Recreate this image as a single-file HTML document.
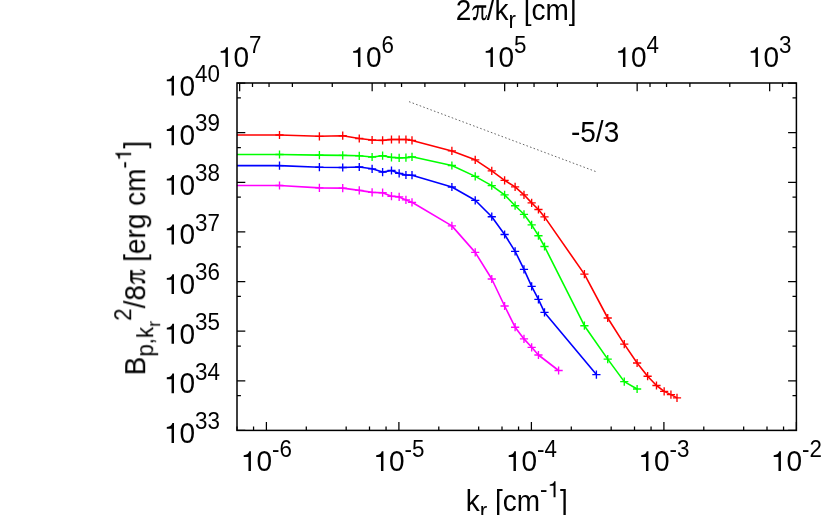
<!DOCTYPE html><html><head><meta charset="utf-8"><title>chart</title><style>html,body{margin:0;padding:0;background:#fff;overflow:hidden}svg{display:block;position:absolute;left:0;top:0}text{font-family:"Liberation Sans",sans-serif;fill:#000}</style></head><body>
<svg width="830" height="515" viewBox="0 0 830 515">
<rect x="0" y="0" width="830" height="515" fill="#fff"/>
<path d="M237.01 430.40L237.01 426.50M253.56 430.40L253.56 426.50M266.40 430.40L266.40 422.10M306.29 430.40L306.29 426.50M346.17 430.40L346.17 426.50M369.51 430.40L369.51 426.50M386.06 430.40L386.06 426.50M398.90 430.40L398.90 422.10M438.79 430.40L438.79 426.50M478.67 430.40L478.67 426.50M502.01 430.40L502.01 426.50M518.56 430.40L518.56 426.50M531.40 430.40L531.40 422.10M571.29 430.40L571.29 426.50M611.17 430.40L611.17 426.50M634.51 430.40L634.51 426.50M651.06 430.40L651.06 426.50M663.90 430.40L663.90 422.10M703.79 430.40L703.79 426.50M743.67 430.40L743.67 426.50M767.01 430.40L767.01 426.50M783.56 430.40L783.56 426.50M796.40 430.40L796.40 422.10M782.50 83.00L782.50 86.90M769.66 83.00L769.66 91.30M729.77 83.00L729.77 86.90M689.89 83.00L689.89 86.90M666.55 83.00L666.55 86.90M650.00 83.00L650.00 86.90M637.16 83.00L637.16 91.30M597.27 83.00L597.27 86.90M557.39 83.00L557.39 86.90M534.05 83.00L534.05 86.90M517.50 83.00L517.50 86.90M504.66 83.00L504.66 91.30M464.77 83.00L464.77 86.90M424.89 83.00L424.89 86.90M401.55 83.00L401.55 86.90M385.00 83.00L385.00 86.90M372.16 83.00L372.16 91.30M332.27 83.00L332.27 86.90M292.39 83.00L292.39 86.90M269.05 83.00L269.05 86.90M252.50 83.00L252.50 86.90M239.66 83.00L239.66 91.30M237.00 430.40L245.30 430.40M796.40 430.40L788.10 430.40M237.00 395.71L240.90 395.71M796.40 395.71L792.50 395.71M237.00 380.77L245.30 380.77M796.40 380.77L788.10 380.77M237.00 346.08L240.90 346.08M796.40 346.08L792.50 346.08M237.00 331.14L245.30 331.14M796.40 331.14L788.10 331.14M237.00 296.45L240.90 296.45M796.40 296.45L792.50 296.45M237.00 281.51L245.30 281.51M796.40 281.51L788.10 281.51M237.00 246.83L240.90 246.83M796.40 246.83L792.50 246.83M237.00 231.89L245.30 231.89M796.40 231.89L788.10 231.89M237.00 197.20L240.90 197.20M796.40 197.20L792.50 197.20M237.00 182.26L245.30 182.26M796.40 182.26L788.10 182.26M237.00 147.57L240.90 147.57M796.40 147.57L792.50 147.57M237.00 132.63L245.30 132.63M796.40 132.63L788.10 132.63M237.00 97.94L240.90 97.94M796.40 97.94L792.50 97.94M237.00 83.00L245.30 83.00M796.40 83.00L788.10 83.00" stroke="#000" stroke-width="1.25" fill="none"/>
<line x1="409" y1="101.65" x2="595.6" y2="171.5" stroke="#000" stroke-width="0.6" stroke-dasharray="1.6 2.2"/>
<path d="M237.00 135.00L279.50 135.00L319.39 136.30L342.72 135.70L359.27 138.50L372.11 140.00L382.61 140.40L391.48 139.50L399.16 139.50L405.94 139.50L412.00 140.40L451.89 150.90L475.22 159.80L491.77 170.90L504.61 180.30L515.11 186.90L523.98 194.80L531.66 202.90L538.44 209.50L544.50 216.90L584.39 274.10L607.72 318.00L624.27 344.10L637.11 363.00L647.61 376.20L656.48 385.50L664.16 391.40L670.94 394.60L677.00 397.90" stroke="#ff0000" stroke-width="1.6" fill="none" stroke-linejoin="round"/>
<path d="M275.40 135.00h8.2M279.50 130.90v8.2M315.29 136.30h8.2M319.39 132.20v8.2M338.62 135.70h8.2M342.72 131.60v8.2M355.17 138.50h8.2M359.27 134.40v8.2M368.01 140.00h8.2M372.11 135.90v8.2M378.51 140.40h8.2M382.61 136.30v8.2M387.38 139.50h8.2M391.48 135.40v8.2M395.06 139.50h8.2M399.16 135.40v8.2M401.84 139.50h8.2M405.94 135.40v8.2M407.90 140.40h8.2M412.00 136.30v8.2M447.79 150.90h8.2M451.89 146.80v8.2M471.12 159.80h8.2M475.22 155.70v8.2M487.67 170.90h8.2M491.77 166.80v8.2M500.51 180.30h8.2M504.61 176.20v8.2M511.01 186.90h8.2M515.11 182.80v8.2M519.88 194.80h8.2M523.98 190.70v8.2M527.56 202.90h8.2M531.66 198.80v8.2M534.34 209.50h8.2M538.44 205.40v8.2M540.40 216.90h8.2M544.50 212.80v8.2M580.29 274.10h8.2M584.39 270.00v8.2M603.62 318.00h8.2M607.72 313.90v8.2M620.17 344.10h8.2M624.27 340.00v8.2M633.01 363.00h8.2M637.11 358.90v8.2M643.51 376.20h8.2M647.61 372.10v8.2M652.38 385.50h8.2M656.48 381.40v8.2M660.06 391.40h8.2M664.16 387.30v8.2M666.84 394.60h8.2M670.94 390.50v8.2M672.90 397.90h8.2M677.00 393.80v8.2" stroke="#ff0000" stroke-width="1.35" fill="none"/>
<path d="M237.00 154.50L279.50 154.50L319.39 155.10L342.72 155.40L359.27 155.80L372.11 157.00L382.61 155.70L391.48 157.40L399.16 157.90L405.94 157.60L412.00 156.80L451.89 165.50L475.22 176.40L491.77 185.60L504.61 194.90L515.11 205.70L523.98 214.30L531.66 224.80L538.44 235.70L544.50 246.50L584.39 325.70L607.72 359.10L624.27 381.60L637.11 389.00" stroke="#00ff00" stroke-width="1.6" fill="none" stroke-linejoin="round"/>
<path d="M275.40 154.50h8.2M279.50 150.40v8.2M315.29 155.10h8.2M319.39 151.00v8.2M338.62 155.40h8.2M342.72 151.30v8.2M355.17 155.80h8.2M359.27 151.70v8.2M368.01 157.00h8.2M372.11 152.90v8.2M378.51 155.70h8.2M382.61 151.60v8.2M387.38 157.40h8.2M391.48 153.30v8.2M395.06 157.90h8.2M399.16 153.80v8.2M401.84 157.60h8.2M405.94 153.50v8.2M407.90 156.80h8.2M412.00 152.70v8.2M447.79 165.50h8.2M451.89 161.40v8.2M471.12 176.40h8.2M475.22 172.30v8.2M487.67 185.60h8.2M491.77 181.50v8.2M500.51 194.90h8.2M504.61 190.80v8.2M511.01 205.70h8.2M515.11 201.60v8.2M519.88 214.30h8.2M523.98 210.20v8.2M527.56 224.80h8.2M531.66 220.70v8.2M534.34 235.70h8.2M538.44 231.60v8.2M540.40 246.50h8.2M544.50 242.40v8.2M580.29 325.70h8.2M584.39 321.60v8.2M603.62 359.10h8.2M607.72 355.00v8.2M620.17 381.60h8.2M624.27 377.50v8.2M633.01 389.00h8.2M637.11 384.90v8.2" stroke="#00ff00" stroke-width="1.35" fill="none"/>
<path d="M237.00 165.60L279.50 165.60L319.39 167.20L342.72 167.50L359.27 167.00L372.11 168.80L382.61 172.10L391.48 170.50L399.16 173.40L405.94 175.00L412.00 175.20L451.89 187.00L475.22 200.30L491.77 216.70L504.61 234.50L515.11 251.30L523.98 269.30L531.66 286.30L538.44 299.30L544.50 312.40L596.40 374.60" stroke="#0000ff" stroke-width="1.6" fill="none" stroke-linejoin="round"/>
<path d="M275.40 165.60h8.2M279.50 161.50v8.2M315.29 167.20h8.2M319.39 163.10v8.2M338.62 167.50h8.2M342.72 163.40v8.2M355.17 167.00h8.2M359.27 162.90v8.2M368.01 168.80h8.2M372.11 164.70v8.2M378.51 172.10h8.2M382.61 168.00v8.2M387.38 170.50h8.2M391.48 166.40v8.2M395.06 173.40h8.2M399.16 169.30v8.2M401.84 175.00h8.2M405.94 170.90v8.2M407.90 175.20h8.2M412.00 171.10v8.2M447.79 187.00h8.2M451.89 182.90v8.2M471.12 200.30h8.2M475.22 196.20v8.2M487.67 216.70h8.2M491.77 212.60v8.2M500.51 234.50h8.2M504.61 230.40v8.2M511.01 251.30h8.2M515.11 247.20v8.2M519.88 269.30h8.2M523.98 265.20v8.2M527.56 286.30h8.2M531.66 282.20v8.2M534.34 299.30h8.2M538.44 295.20v8.2M540.40 312.40h8.2M544.50 308.30v8.2M592.30 374.60h8.2M596.40 370.50v8.2" stroke="#0000ff" stroke-width="1.35" fill="none"/>
<path d="M237.00 185.50L279.50 185.50L319.39 187.90L342.72 188.10L359.27 190.40L372.11 192.40L382.61 192.70L391.48 196.20L399.16 196.90L405.94 199.90L412.00 202.30L451.89 225.90L475.22 252.40L491.77 279.00L504.61 306.00L515.11 327.20L523.98 338.90L531.66 347.30L538.44 355.00L558.60 370.50" stroke="#ff00ff" stroke-width="1.6" fill="none" stroke-linejoin="round"/>
<path d="M275.40 185.50h8.2M279.50 181.40v8.2M315.29 187.90h8.2M319.39 183.80v8.2M338.62 188.10h8.2M342.72 184.00v8.2M355.17 190.40h8.2M359.27 186.30v8.2M368.01 192.40h8.2M372.11 188.30v8.2M378.51 192.70h8.2M382.61 188.60v8.2M387.38 196.20h8.2M391.48 192.10v8.2M395.06 196.90h8.2M399.16 192.80v8.2M401.84 199.90h8.2M405.94 195.80v8.2M407.90 202.30h8.2M412.00 198.20v8.2M447.79 225.90h8.2M451.89 221.80v8.2M471.12 252.40h8.2M475.22 248.30v8.2M487.67 279.00h8.2M491.77 274.90v8.2M500.51 306.00h8.2M504.61 301.90v8.2M511.01 327.20h8.2M515.11 323.10v8.2M519.88 338.90h8.2M523.98 334.80v8.2M527.56 347.30h8.2M531.66 343.20v8.2M534.34 355.00h8.2M538.44 350.90v8.2M554.50 370.50h8.2M558.60 366.40v8.2" stroke="#ff00ff" stroke-width="1.35" fill="none"/>
<rect x="237.0" y="83.0" width="559.40" height="347.40" fill="none" stroke="#000" stroke-width="1.5"/>
<g id="labels" style="opacity:0.999">
<g transform="translate(220.00 442.90) scale(1 1.05) translate(-56.04 0)"><path transform="translate(0.00 0.00) scale(0.02800 -0.02667)" d="M101 505L101 568C224 582 279 620 301 709L359 709L359 0L271 0L271 505Z"/><text x="15.57" y="0.00" font-size="28.00">0</text><text x="31.14" y="-12.99" font-size="22.40" textLength="24.91" lengthAdjust="spacing">33</text></g>
<g transform="translate(220.00 393.27) scale(1 1.05) translate(-56.04 0)"><path transform="translate(0.00 0.00) scale(0.02800 -0.02667)" d="M101 505L101 568C224 582 279 620 301 709L359 709L359 0L271 0L271 505Z"/><text x="15.57" y="0.00" font-size="28.00">0</text><text x="31.14" y="-12.99" font-size="22.40" textLength="24.91" lengthAdjust="spacing">34</text></g>
<g transform="translate(220.00 343.64) scale(1 1.05) translate(-56.04 0)"><path transform="translate(0.00 0.00) scale(0.02800 -0.02667)" d="M101 505L101 568C224 582 279 620 301 709L359 709L359 0L271 0L271 505Z"/><text x="15.57" y="0.00" font-size="28.00">0</text><text x="31.14" y="-12.99" font-size="22.40" textLength="24.91" lengthAdjust="spacing">35</text></g>
<g transform="translate(220.00 294.01) scale(1 1.05) translate(-56.04 0)"><path transform="translate(0.00 0.00) scale(0.02800 -0.02667)" d="M101 505L101 568C224 582 279 620 301 709L359 709L359 0L271 0L271 505Z"/><text x="15.57" y="0.00" font-size="28.00">0</text><text x="31.14" y="-12.99" font-size="22.40" textLength="24.91" lengthAdjust="spacing">36</text></g>
<g transform="translate(220.00 244.39) scale(1 1.05) translate(-56.04 0)"><path transform="translate(0.00 0.00) scale(0.02800 -0.02667)" d="M101 505L101 568C224 582 279 620 301 709L359 709L359 0L271 0L271 505Z"/><text x="15.57" y="0.00" font-size="28.00">0</text><text x="31.14" y="-12.99" font-size="22.40" textLength="24.91" lengthAdjust="spacing">37</text></g>
<g transform="translate(220.00 194.76) scale(1 1.05) translate(-56.04 0)"><path transform="translate(0.00 0.00) scale(0.02800 -0.02667)" d="M101 505L101 568C224 582 279 620 301 709L359 709L359 0L271 0L271 505Z"/><text x="15.57" y="0.00" font-size="28.00">0</text><text x="31.14" y="-12.99" font-size="22.40" textLength="24.91" lengthAdjust="spacing">38</text></g>
<g transform="translate(220.00 145.13) scale(1 1.05) translate(-56.04 0)"><path transform="translate(0.00 0.00) scale(0.02800 -0.02667)" d="M101 505L101 568C224 582 279 620 301 709L359 709L359 0L271 0L271 505Z"/><text x="15.57" y="0.00" font-size="28.00">0</text><text x="31.14" y="-12.99" font-size="22.40" textLength="24.91" lengthAdjust="spacing">39</text></g>
<g transform="translate(220.00 95.50) scale(1 1.05) translate(-56.04 0)"><path transform="translate(0.00 0.00) scale(0.02800 -0.02667)" d="M101 505L101 568C224 582 279 620 301 709L359 709L359 0L271 0L271 505Z"/><text x="15.57" y="0.00" font-size="28.00">0</text><text x="31.14" y="-12.99" font-size="22.40" textLength="24.91" lengthAdjust="spacing">40</text></g>
<g transform="translate(769.66 67.00) scale(1 1.05) translate(-21.80 0)"><path transform="translate(0.00 0.00) scale(0.02800 -0.02667)" d="M101 505L101 568C224 582 279 620 301 709L359 709L359 0L271 0L271 505Z"/><text x="15.57" y="0.00" font-size="28.00">0</text><text x="31.14" y="-12.99" font-size="22.40">3</text></g>
<g transform="translate(637.16 67.00) scale(1 1.05) translate(-21.80 0)"><path transform="translate(0.00 0.00) scale(0.02800 -0.02667)" d="M101 505L101 568C224 582 279 620 301 709L359 709L359 0L271 0L271 505Z"/><text x="15.57" y="0.00" font-size="28.00">0</text><text x="31.14" y="-12.99" font-size="22.40">4</text></g>
<g transform="translate(504.66 67.00) scale(1 1.05) translate(-21.80 0)"><path transform="translate(0.00 0.00) scale(0.02800 -0.02667)" d="M101 505L101 568C224 582 279 620 301 709L359 709L359 0L271 0L271 505Z"/><text x="15.57" y="0.00" font-size="28.00">0</text><text x="31.14" y="-12.99" font-size="22.40">5</text></g>
<g transform="translate(372.16 67.00) scale(1 1.05) translate(-21.80 0)"><path transform="translate(0.00 0.00) scale(0.02800 -0.02667)" d="M101 505L101 568C224 582 279 620 301 709L359 709L359 0L271 0L271 505Z"/><text x="15.57" y="0.00" font-size="28.00">0</text><text x="31.14" y="-12.99" font-size="22.40">6</text></g>
<g transform="translate(239.66 67.00) scale(1 1.05) translate(-21.80 0)"><path transform="translate(0.00 0.00) scale(0.02800 -0.02667)" d="M101 505L101 568C224 582 279 620 301 709L359 709L359 0L271 0L271 505Z"/><text x="15.57" y="0.00" font-size="28.00">0</text><text x="31.14" y="-12.99" font-size="22.40">7</text></g>
<g transform="translate(266.40 471.10) scale(1 1.05) translate(-25.52 0)"><path transform="translate(0.00 0.00) scale(0.02800 -0.02667)" d="M101 505L101 568C224 582 279 620 301 709L359 709L359 0L271 0L271 505Z"/><text x="15.57" y="0.00" font-size="28.00">0</text><text x="31.14" y="-12.99" font-size="22.40" textLength="19.91" lengthAdjust="spacing">-6</text></g>
<g transform="translate(398.90 471.10) scale(1 1.05) translate(-25.52 0)"><path transform="translate(0.00 0.00) scale(0.02800 -0.02667)" d="M101 505L101 568C224 582 279 620 301 709L359 709L359 0L271 0L271 505Z"/><text x="15.57" y="0.00" font-size="28.00">0</text><text x="31.14" y="-12.99" font-size="22.40" textLength="19.91" lengthAdjust="spacing">-5</text></g>
<g transform="translate(531.40 471.10) scale(1 1.05) translate(-25.52 0)"><path transform="translate(0.00 0.00) scale(0.02800 -0.02667)" d="M101 505L101 568C224 582 279 620 301 709L359 709L359 0L271 0L271 505Z"/><text x="15.57" y="0.00" font-size="28.00">0</text><text x="31.14" y="-12.99" font-size="22.40" textLength="19.91" lengthAdjust="spacing">-4</text></g>
<g transform="translate(663.90 471.10) scale(1 1.05) translate(-25.52 0)"><path transform="translate(0.00 0.00) scale(0.02800 -0.02667)" d="M101 505L101 568C224 582 279 620 301 709L359 709L359 0L271 0L271 505Z"/><text x="15.57" y="0.00" font-size="28.00">0</text><text x="31.14" y="-12.99" font-size="22.40" textLength="19.91" lengthAdjust="spacing">-3</text></g>
<g transform="translate(796.40 471.10) scale(1 1.05) translate(-25.52 0)"><path transform="translate(0.00 0.00) scale(0.02800 -0.02667)" d="M101 505L101 568C224 582 279 620 301 709L359 709L359 0L271 0L271 505Z"/><text x="15.57" y="0.00" font-size="28.00">0</text><text x="31.14" y="-12.99" font-size="22.40" textLength="19.91" lengthAdjust="spacing">-2</text></g>
<g transform="translate(516.20 20.00) scale(1 1.05) translate(-60.43 0)"><text x="0.00" y="0.00" font-size="28.00">2</text><path transform="translate(15.57 0.00) scale(1.00000 -0.95238)" d="M0.7 10.0C1.5 12.5 2.8 14.7 5.0 14.7L14.9 14.7L14.9 12.2L5.2 12.2C3.5 12.2 2.4 11.2 1.4 9.6ZM10.1 12.2L11.9 12.2L11.9 3.2C11.9 2.1 12.4 1.7 13.0 1.7C13.8 1.7 14.3 2.8 14.7 4.9L15.6 4.7C15.3 1.5 14.2 -0.35 12.6 -0.35C11.0 -0.35 10.1 0.8 10.1 2.8ZM5.8 12.2L7.4 12.2C7.3 8.0 6.9 4.5 5.9 2.2C5.3 0.6 4.3 -0.35 3.2 -0.35C2.1 -0.35 1.5 0.4 1.5 1.3C1.5 2.3 2.2 3.0 3.1 3.0C3.8 3.0 4.1 2.7 4.4 3.0C5.1 4.6 5.7 8.0 5.8 12.2Z"/><text x="30.94" y="0.00" font-size="28.00" textLength="21.78" lengthAdjust="spacing">/k</text><text x="52.72" y="8.00" font-size="22.40">r</text><text x="67.97" y="0.00" font-size="28.00" textLength="52.89" lengthAdjust="spacing">[cm]</text></g>
<g transform="translate(516.70 510.80) scale(1 1.05) translate(-51.02 0)"><text x="0.00" y="0.00" font-size="28.00">k</text><text x="14.00" y="8.00" font-size="22.40">r</text><text x="29.24" y="0.00" font-size="28.00" textLength="45.11" lengthAdjust="spacing">[cm</text><text x="74.35" y="-12.99" font-size="22.40">-</text><path transform="translate(81.81 -12.99) scale(0.02240 -0.02133)" d="M101 505L101 568C224 582 279 620 301 709L359 709L359 0L271 0L271 505Z"/><text x="94.26" y="0.00" font-size="28.00">]</text></g>
<g transform="translate(571.00 141.70) scale(1 1.05) translate(0.00 0)"><text x="0.00" y="0.00" font-size="28.00" textLength="48.24" lengthAdjust="spacing">-5/3</text></g>
<g transform="translate(144.90 258.10) rotate(-90) scale(1 1.05) translate(-117.27 0)"><text x="0.00" y="0.00" font-size="28.00">B</text><text x="18.68" y="8.00" font-size="22.40" textLength="29.88" lengthAdjust="spacing">p,k</text><text x="48.56" y="14.40" font-size="17.92">r</text><text x="54.52" y="-12.99" font-size="22.40">2</text><text x="66.98" y="0.00" font-size="28.00" textLength="23.35" lengthAdjust="spacing">/8</text><path transform="translate(90.33 0.00) scale(1.00000 -0.95238)" d="M0.7 10.0C1.5 12.5 2.8 14.7 5.0 14.7L14.9 14.7L14.9 12.2L5.2 12.2C3.5 12.2 2.4 11.2 1.4 9.6ZM10.1 12.2L11.9 12.2L11.9 3.2C11.9 2.1 12.4 1.7 13.0 1.7C13.8 1.7 14.3 2.8 14.7 4.9L15.6 4.7C15.3 1.5 14.2 -0.35 12.6 -0.35C11.0 -0.35 10.1 0.8 10.1 2.8ZM5.8 12.2L7.4 12.2C7.3 8.0 6.9 4.5 5.9 2.2C5.3 0.6 4.3 -0.35 3.2 -0.35C2.1 -0.35 1.5 0.4 1.5 1.3C1.5 2.3 2.2 3.0 3.1 3.0C3.8 3.0 4.1 2.7 4.4 3.0C5.1 4.6 5.7 8.0 5.8 12.2Z"/><text x="113.49" y="0.00" font-size="28.00" textLength="48.24" lengthAdjust="spacing">[erg</text><text x="169.52" y="0.00" font-size="28.00" textLength="37.32" lengthAdjust="spacing">cm</text><text x="206.84" y="-12.99" font-size="22.40">-</text><path transform="translate(214.30 -12.99) scale(0.02240 -0.02133)" d="M101 505L101 568C224 582 279 620 301 709L359 709L359 0L271 0L271 505Z"/><text x="226.75" y="0.00" font-size="28.00">]</text></g>
</g>
</svg></body></html>
